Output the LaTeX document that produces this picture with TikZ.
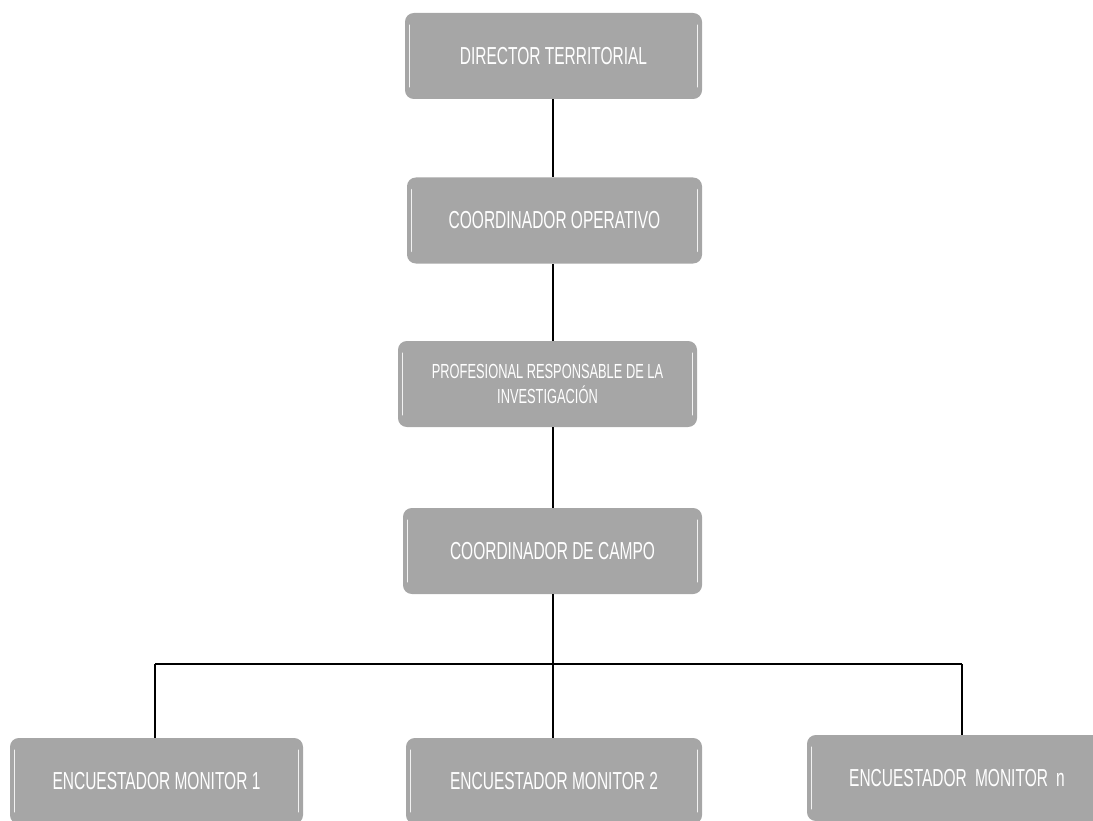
\documentclass[tikz,border=0pt]{standalone}
\usepackage{fontspec}
\setmainfont{Liberation Sans}[FakeStretch=0.63]
\definecolor{cajagris}{HTML}{A6A6A6}
\tikzset{
    cargo/.style={rectangle, rounded corners=5pt, fill=cajagris, text=white,
        minimum width=5.94cm, minimum height=1.72cm, align=center,
        font=\fontsize{14}{16}\selectfont,
        path picture={
            \draw[white!85!cajagris, line width=1pt, line cap=round]
                ([xshift=2.5pt,yshift=-7pt]path picture bounding box.north west) --
                ([xshift=2.5pt,yshift=7pt]path picture bounding box.south west);
            \draw[white!85!cajagris, line width=1pt, line cap=round]
                ([xshift=-2.5pt,yshift=-7pt]path picture bounding box.north east) --
                ([xshift=-2.5pt,yshift=7pt]path picture bounding box.south east);
        }},
    enlace/.style={draw, black, line width=1pt}
}
\begin{document}
\begin{tikzpicture}
    % Marco de la imagen
    \useasboundingbox (0, 0) rectangle (21.86, -16.4);
    \clip (0, 0) rectangle (21.86, -16.4);

    % Jerarquia central
    \node[cargo] (director) at (11.07, -1.12) {DIRECTOR TERRITORIAL};
    \node[cargo, minimum width=5.9cm] (operativo) at (11.09, -4.41) {COORDINADOR OPERATIVO};
    \node[cargo, minimum width=5.98cm, font=\fontsize{11.6}{13.7}\selectfont] (profesional) at (10.95, -7.68)
        {PROFESIONAL RESPONSABLE DE LA\\INVESTIGACI\'ON};
    \node[cargo, minimum width=5.98cm] (campo) at (11.05, -11.02) {COORDINADOR DE CAMPO};

    % Encuestadores
    \node[cargo, minimum width=5.86cm] (monitor1) at (3.13, -15.62) {ENCUESTADOR MONITOR 1};
    \node[cargo, minimum width=5.92cm] (monitor2) at (11.08, -15.62) {ENCUESTADOR MONITOR 2};
    \node[cargo, minimum width=6.3cm, text width=5.5cm, xshift=0.05cm] (monitorn) at (19.24, -15.56)
        {\hspace*{-0.3cm}ENCUESTADOR MONITOR n};

    % Lineas de mando
    \coordinate (eje) at (11.06, -13.28);
    \coordinate (rama1) at (3.1, -13.28);
    \coordinate (raman) at (19.24, -13.28);
    \draw[enlace] (director.south -| eje) -- (operativo.north -| eje);
    \draw[enlace] (operativo.south -| eje) -- (profesional.north -| eje);
    \draw[enlace] (profesional.south -| eje) -- (campo.north -| eje);
    \draw[enlace] (campo.south -| eje) -- (monitor2.north -| eje);
    \draw[black, line width=1.6pt] (rama1) -- (raman);
    \draw[enlace] (rama1) -- (monitor1.north -| rama1);
    \draw[enlace] (raman) -- (monitorn.north -| raman);
\end{tikzpicture}
\end{document}
